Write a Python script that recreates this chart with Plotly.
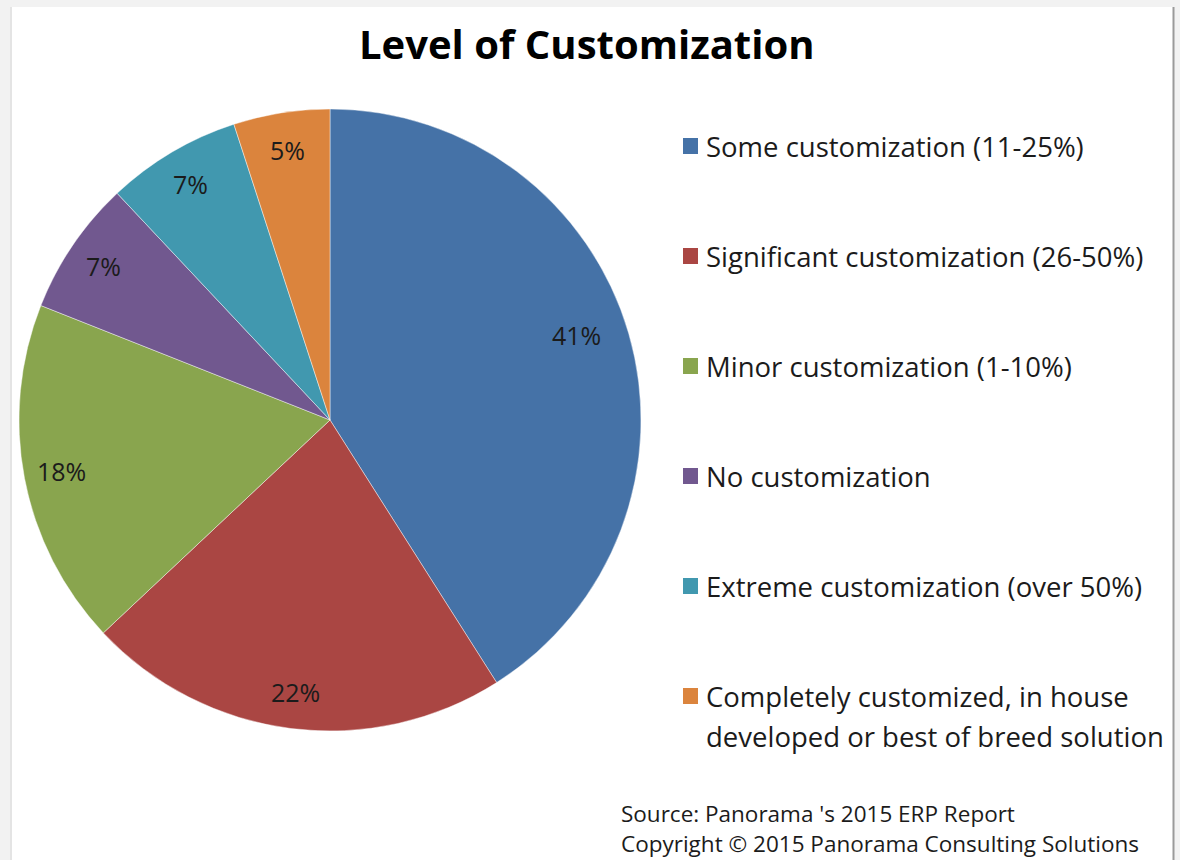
import math
import plotly.graph_objects as go

# Survey categories, shares (%) and slice colours
categories = [
    "Some customization (11-25%)",
    "Significant customization (26-50%)",
    "Minor customization (1-10%)",
    "No customization",
    "Extreme customization (over 50%)",
    "Completely customized, in house developed or best of breed solution",
]
shares = [41, 22, 18, 7, 7, 5]
colors = ["#4572A7", "#AA4643", "#89A54E", "#71588F", "#4198AF", "#DB843D"]

# Legend text (the long entry is broken over two lines)
legend_lines = [
    ["Some customization (11-25%)"],
    ["Significant customization (26-50%)"],
    ["Minor customization (1-10%)"],
    ["No customization"],
    ["Extreme customization (over 50%)"],
    ["Completely customized, in house", "developed or best of breed solution"],
]

title_text = "Level of Customization"
source_lines = [
    "Source: Panorama 's 2015 ERP Report",
    "Copyright \u00a9 2015 Panorama Consulting Solutions",
]

W, H = 1180, 860
FONT = "'Open Sans', 'Noto Sans', sans-serif"
TXT = "#1b1b1b"

# Pie geometry in pixels
CX, CY, R = 330, 420, 311


def px(x):
    return x / W


def py(y):
    return 1 - y / H


fig = go.Figure()
fig.add_trace(go.Pie(
    labels=categories,
    values=shares,
    sort=False,
    direction="clockwise",
    rotation=0,
    marker=dict(colors=colors, line=dict(color="rgba(255,255,255,0.55)", width=0.8)),
    textinfo="none",
    hoverinfo="label+percent",
    showlegend=False,
    domain=dict(x=[px(CX - R), px(CX + R)], y=[py(CY + R), py(CY - R)]),
))

annotations = []
shapes = []

# Percentage labels placed along each slice's mid-angle
total = sum(shares)
cum = 0
for i, v in enumerate(shares):
    mid = (cum + v / 2) / total * 2 * math.pi
    cum += v
    big = v == max(shares)
    rf = 0.84 if big else 0.88
    ang = mid - (0.05 if big else 0.0)
    lx = CX + rf * R * math.sin(ang)
    ly = CY - rf * R * math.cos(ang)
    annotations.append(dict(
        x=px(lx), y=py(ly), xref="paper", yref="paper",
        text=f"{v}%", showarrow=False,
        font=dict(family=FONT, size=25, color=TXT),
        xanchor="center", yanchor="middle",
    ))

# Legend: coloured squares with labels
LEG_X, LEG_Y0, LEG_STEP, LINE_STEP = 683, 146, 110, 40
for i, lines in enumerate(legend_lines):
    yc = LEG_Y0 + i * LEG_STEP
    shapes.append(dict(
        type="rect", xref="paper", yref="paper",
        x0=px(LEG_X), x1=px(LEG_X + 15), y0=py(yc + 8), y1=py(yc - 8),
        fillcolor=colors[i], line=dict(width=0),
    ))
    for j, line in enumerate(lines):
        annotations.append(dict(
            x=px(LEG_X + 21), y=py(yc + j * LINE_STEP), xref="paper", yref="paper",
            text=line, showarrow=False,
            font=dict(family=FONT, size=27.5, color=TXT),
            xanchor="left", yanchor="middle",
        ))

# Title
annotations.append(dict(
    x=px(586), y=py(44), xref="paper", yref="paper",
    text=f"<b>{title_text}</b>", showarrow=False,
    font=dict(family=FONT, size=40, color="#000000"),
    xanchor="center", yanchor="middle",
))

# Source / copyright footer
for j, line in enumerate(source_lines):
    annotations.append(dict(
        x=px(619), y=py(813 + j * 30), xref="paper", yref="paper",
        text=line, showarrow=False,
        font=dict(family=FONT, size=22.5, color=TXT),
        xanchor="left", yanchor="middle",
    ))

# Window frame around the white chart area
shapes[:0] = [
    dict(type="rect", xref="paper", yref="paper", layer="below",
         x0=px(12), x1=px(1173), y0=0, y1=py(7),
         fillcolor="#ffffff", line=dict(width=0)),
    dict(type="line", xref="paper", yref="paper", layer="below",
         x0=px(11), x1=px(11), y0=0, y1=py(7),
         line=dict(color="#e4e4e4", width=2)),
    dict(type="line", xref="paper", yref="paper", layer="below",
         x0=px(1173.5), x1=px(1173.5), y0=0, y1=py(7),
         line=dict(color="#9a9a9a", width=2)),
]

fig.update_layout(
    width=W, height=H,
    margin=dict(l=0, r=0, t=0, b=0),
    paper_bgcolor="#f2f2f2",
    plot_bgcolor="#ffffff",
    annotations=annotations,
    shapes=shapes,
    showlegend=False,
)

fig.write_html("out.html")
